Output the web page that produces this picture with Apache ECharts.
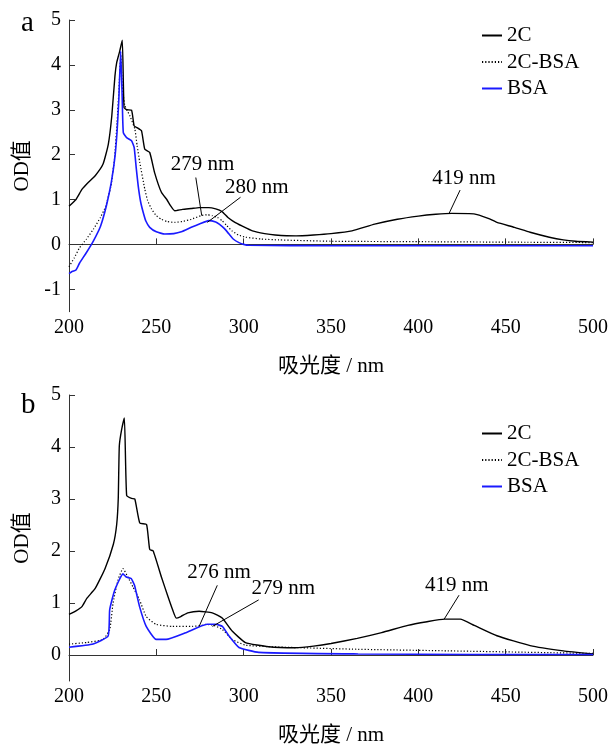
<!DOCTYPE html>
<html>
<head>
<meta charset="utf-8">
<script src="https://cdn.jsdelivr.net/npm/echarts@6/dist/echarts.min.js"></script>
<style>
html,body{margin:0;padding:0;background:#fff;}
#c{width:611px;height:747px;}
</style>
</head>
<body>
<div id="c"></div>
<script>
// ---------- data ----------
const seriesNames = ['2C', '2C-BSA', 'BSA'];
const xTicks = [200, 250, 300, 350, 400, 450, 500];
const yTicksA = [-1, 0, 1, 2, 3, 4, 5];
const yTicksB = [0, 1, 2, 3, 4, 5];
const xTitle = '吸光度 / nm';
const yTitle = 'OD值';
const panelLabels = ['a', 'b'];

// panel a
const a_2C = [[200,0.85],[204,1.0],[207.5,1.23],[211,1.38],[215,1.53],[219.5,1.79],[222.5,2.23],[224.5,2.86],[226.3,3.75],[227.3,4.05],[229,4.3],[230.5,4.55],[231.5,3.05],[233,3.0],[235.8,2.99],[237.3,2.64],[239,2.6],[241.5,2.53],[243.4,2.12],[246.2,2.05],[249,1.6],[252.9,1.16],[256,1.0],[258,0.87],[260.5,0.75],[265,0.78],[270,0.8],[274.5,0.82],[280,0.82],[284,0.79],[287.6,0.73],[291,0.6],[295,0.49],[299,0.41],[305,0.3],[312,0.24],[318,0.21],[330,0.19],[340,0.21],[350,0.24],[362,0.30],[375,0.45],[388,0.56],[400,0.63],[410,0.67],[419,0.69],[431.8,0.68],[440,0.58],[445,0.49],[455,0.38],[464,0.27],[475,0.16],[483,0.10],[490,0.07],[500,0.05]];
const a_2CBSA = [[200,-0.5],[203,-0.3],[206,-0.08],[210,0.12],[214,0.34],[218,0.6],[221,0.85],[224,1.3],[226,1.9],[227.5,2.7],[228.8,3.6],[229.6,4.22],[230.5,3.5],[232,3.09],[234.9,2.86],[237.7,2.57],[239,2.2],[240.5,1.83],[243.4,1.23],[245,0.98],[247.2,0.79],[250,0.64],[252.9,0.56],[256,0.51],[260.5,0.49],[265,0.51],[270,0.56],[275.5,0.64],[279,0.66],[282,0.64],[285,0.6],[287.7,0.53],[290,0.43],[293.4,0.30],[297,0.21],[301,0.16],[310,0.12],[320,0.10],[350,0.07],[400,0.06],[450,0.05],[500,0.04]];
const a_BSA = [[200,-0.65],[202,-0.6],[204,-0.57],[206,-0.42],[210,-0.18],[214,0.08],[218,0.4],[220.5,0.72],[222.5,1.05],[224.5,1.45],[226.3,1.95],[227.5,2.5],[228.5,3.2],[229.6,4.31],[230.5,3.2],[231.1,2.49],[233,2.38],[235.8,2.31],[237.3,2.16],[238.5,1.7],[239.6,1.31],[241,0.95],[242.5,0.71],[244,0.52],[246.2,0.38],[250,0.28],[254.8,0.23],[260,0.24],[264.3,0.28],[270,0.38],[275,0.46],[280,0.53],[284,0.5],[286,0.45],[289,0.35],[291.6,0.23],[294,0.12],[297.3,0.04],[300,0.0],[303,-0.02],[350,-0.03],[400,-0.03],[450,-0.03],[500,-0.03]];

// panel b
const b_2C = [[200,0.78],[204,0.85],[207.4,0.93],[210.2,1.09],[215,1.28],[220.6,1.66],[225.4,2.13],[227.3,2.51],[228.2,3.01],[228.8,4.02],[230.1,4.33],[231.7,4.56],[233,3.07],[235.8,3.01],[237.7,3.0],[240.5,2.54],[244.4,2.51],[246.2,2.03],[248.2,2.0],[252.9,1.5],[256.7,1.12],[259,0.9],[261.4,0.71],[264,0.74],[268,0.81],[274.5,0.84],[282,0.81],[287.7,0.71],[293.4,0.46],[301,0.24],[314.3,0.16],[329.5,0.14],[340,0.17],[350,0.22],[365,0.32],[379,0.43],[394,0.57],[405,0.64],[415,0.69],[424,0.69],[432,0.57],[445,0.37],[464,0.18],[483,0.08],[500,0.02]];
const b_2CBSA = [[200,0.21],[210,0.24],[219.5,0.30],[223.3,0.49],[225.2,0.99],[228,1.44],[230.9,1.66],[233.7,1.5],[236.6,1.31],[240.4,1.06],[244.2,0.74],[249.9,0.59],[259.3,0.55],[270.7,0.55],[276,0.57],[278.3,0.59],[283,0.57],[287.8,0.49],[293.4,0.30],[301,0.19],[315,0.16],[327.6,0.145],[365.5,0.11],[416.7,0.08],[500,0.03]];
const b_BSA = [[200,0.15],[213.8,0.21],[222.4,0.365],[223.3,0.87],[226.2,1.25],[230.9,1.56],[232.8,1.5],[235.6,1.47],[237.5,1.34],[240.4,0.93],[244.2,0.55],[249.9,0.30],[255.6,0.30],[266.9,0.43],[279,0.59],[284,0.59],[287.8,0.55],[291.6,0.365],[297.3,0.145],[308.6,0.05],[365.5,0.02],[430,0.01],[500,0.01]];

// peak annotations: [panel, text, tipX, tipY, startX, startY, textX, textY] in data units
const annotations = [
  [0, '279 nm', 276.0, 0.64, 272.6, 1.49, 276.5, 1.77],
  [0, '280 nm', 279.2, 0.49, 298.2, 1.05, 307.5, 1.27],
  [0, '419 nm', 417.6, 0.69, 423.9, 1.21, 426.2, 1.47],
  [1, '276 nm', 274.5, 0.55, 284.9, 1.34, 285.9, 1.59],
  [1, '279 nm', 282.1, 0.55, 308.6, 1.06, 322.7, 1.28],
  [1, '419 nm', 414.8, 0.69, 423.3, 1.15, 422.0, 1.33]
];

// ---------- chart ----------
const FONT = '"Liberation Serif", "Noto Sans CJK SC", serif';
const AXIS_COLOR = '#333';
const chart = echarts.init(document.getElementById('c'), null, {renderer: 'canvas'});

function xAxisCfg(gi) {
  return {
    type: 'value', gridIndex: gi, min: 200, max: 500, interval: 50,
    axisLine: {show: true, lineStyle: {color: AXIS_COLOR, width: 1}},
    axisTick: {show: true, inside: true, length: 6, lineStyle: {color: AXIS_COLOR}, customValues: xTicks},
    axisLabel: {color: '#000', fontFamily: FONT, fontSize: 20, margin: 6, customValues: xTicks},
    splitLine: {show: false},
    name: xTitle, nameLocation: 'middle', nameGap: 44,
    nameTextStyle: {color: '#000', fontFamily: FONT, fontSize: 21}
  };
}
function yAxisCfg(gi, min, ticks) {
  return {
    type: 'value', gridIndex: gi, min: min, max: 5,
    axisLine: {show: true, onZero: false, lineStyle: {color: AXIS_COLOR, width: 1}},
    axisTick: {show: true, inside: true, length: 6, lineStyle: {color: AXIS_COLOR}, customValues: ticks},
    axisLabel: {color: '#000', fontFamily: FONT, fontSize: 20, margin: 8, customValues: ticks},
    splitLine: {show: false},
    name: yTitle, nameLocation: 'middle', nameGap: 36, nameRotate: 90,
    nameTextStyle: {color: '#000', fontFamily: FONT, fontSize: 21}
  };
}
const styles = {
  '2C': {color: '#000', width: 1.4, type: 'solid'},
  '2C-BSA': {color: '#000', width: 1.2, type: [1.2, 2]},
  'BSA': {color: '#1a1aff', width: 1.6, type: 'solid'}
};
function lineSeries(name, data, gi) {
  const s = styles[name];
  return {
    name: name, type: 'line', xAxisIndex: gi, yAxisIndex: gi, data: data,
    showSymbol: false, symbol: 'none', smooth: 0.15, clip: true,
    lineStyle: {color: s.color, width: s.width, type: s.type},
    itemStyle: {color: s.color}, z: name === 'BSA' ? 3 : 2
  };
}
function legendCfg(top) {
  return {
    orient: 'vertical', left: 481, top: top, data: seriesNames, padding: 0,
    itemWidth: 20, itemHeight: 14, itemGap: 5.5,
    itemStyle: {opacity: 0},
    textStyle: {color: '#000', fontFamily: FONT, fontSize: 21, lineHeight: 21},
    selectedMode: false
  };
}

chart.setOption({
  animation: false,
  backgroundColor: '#fff',
  title: [
    {text: panelLabels[0], left: 16, top: 4, textStyle: {fontFamily: FONT, fontSize: 29, fontWeight: 'normal', color: '#000'}},
    {text: panelLabels[1], left: 16, top: 386, textStyle: {fontFamily: FONT, fontSize: 29, fontWeight: 'normal', color: '#000'}}
  ],
  legend: [legendCfg(25), legendCfg(423)],
  grid: [
    {left: 69, top: 20, width: 527, height: 291.7},
    {left: 69, top: 395, width: 527, height: 290.7}
  ],
  xAxis: [xAxisCfg(0), xAxisCfg(1)],
  yAxis: [yAxisCfg(0, -1.5, yTicksA), yAxisCfg(1, -0.5, yTicksB)],
  series: [
    lineSeries('2C', a_2C, 0),
    lineSeries('2C-BSA', a_2CBSA, 0),
    lineSeries('BSA', a_BSA, 0),
    lineSeries('2C', b_2C, 1),
    lineSeries('2C-BSA', b_2CBSA, 1),
    lineSeries('BSA', b_BSA, 1)
  ]
});

// annotations placed through the grids' own coordinate systems
const graphics = [];
annotations.forEach(function (a) {
  const gi = a[0];
  const tip = chart.convertToPixel({gridIndex: gi}, [a[2], a[3]]);
  const st = chart.convertToPixel({gridIndex: gi}, [a[4], a[5]]);
  const tp = chart.convertToPixel({gridIndex: gi}, [a[6], a[7]]);
  graphics.push({
    type: 'line', silent: true, z: 10,
    shape: {x1: st[0], y1: st[1], x2: tip[0], y2: tip[1]},
    style: {stroke: '#000', lineWidth: 1}
  });
  graphics.push({
    type: 'text', silent: true, z: 10, x: tp[0], y: tp[1],
    style: {text: a[1], fill: '#000', font: '21px ' + FONT, align: 'center', verticalAlign: 'middle'}
  });
});
chart.setOption({graphic: graphics});
</script>
</body>
</html>
